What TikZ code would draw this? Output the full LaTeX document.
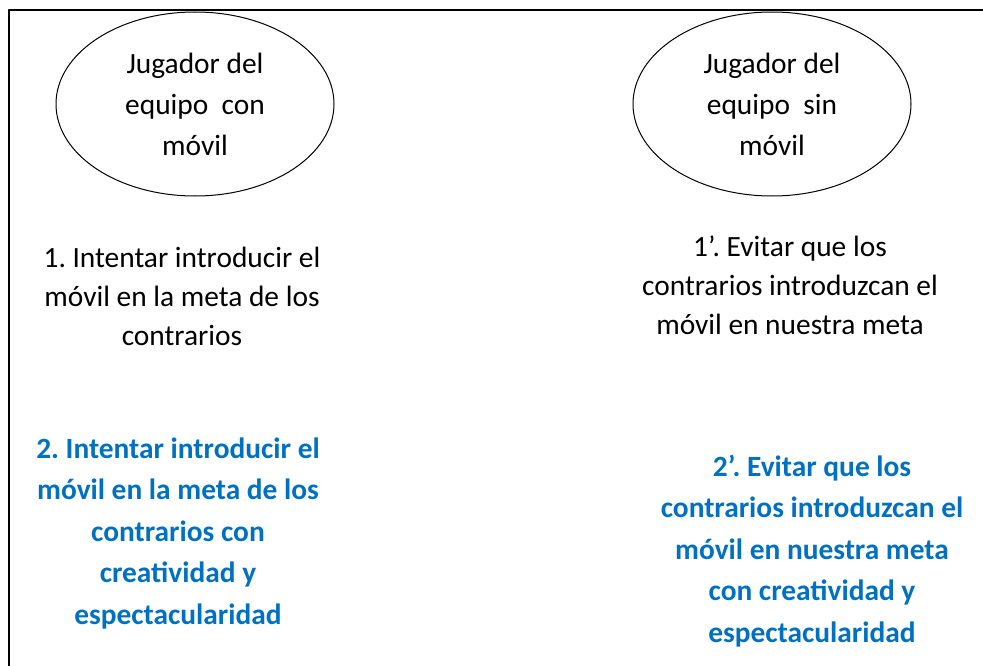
\documentclass[tikz,border=0pt]{standalone}
\usepackage{fontspec}
\setmainfont{Carlito}
\usepackage{xcolor}
\usepackage{tikz}
\usetikzlibrary{positioning, shapes.geometric}
\definecolor{azulw}{HTML}{0070C0}
\frenchspacing

\begin{document}
\begin{tikzpicture}[x=1pt, y=-1pt, line join=round,
        jugador/.style={draw, line width=1pt, ellipse, minimum width=278pt, minimum height=184pt,
                        inner sep=0pt, align=center, font=\fontsize{29.4}{41}\selectfont},
        objetivo/.style={align=center, inner sep=0pt, font=\fontsize{29.4}{39}\selectfont},
        creativo/.style={align=center, inner sep=0pt, text=azulw,
                         font=\fontsize{29.4}{41.5}\selectfont\bfseries}]
        \useasboundingbox (0, 0) rectangle (983, 666);
        % marco
        \coordinate (mtop) at (983, 10);
        \coordinate (mcorner) at (9, 10);
        \coordinate (mbottom) at (9, 666);
        \draw[line width=1.3pt] (mtop) -- (mcorner) -- (mbottom);
        % jugadores
        \node[jugador] (con) at (195, 104) {Jugador del\\equipo\ \ con\\móvil};
        \node[jugador] (sin) at (772, 104) {Jugador del\\equipo\ \ sin\\móvil};
        % objetivos
        \node[objetivo] (obj1) at (182, 296) {1. Intentar introducir el\\móvil en la meta de los\\contrarios};
        \node[objetivo] (obj1b) at (790, 285) {1’. Evitar que los\\contrarios introduzcan el\\móvil en nuestra meta};
        \node[creativo] (obj2) at (178, 533)
            {2. Intentar introducir el\\móvil en la meta de los\\contrarios con\\creatividad y\\espectacularidad};
        \node[creativo] (obj2b) at (812, 551)
            {2’. Evitar que los\\contrarios introduzcan el\\móvil en nuestra meta\\con creatividad y\\espectacularidad};
    \end{tikzpicture}
\end{document}
